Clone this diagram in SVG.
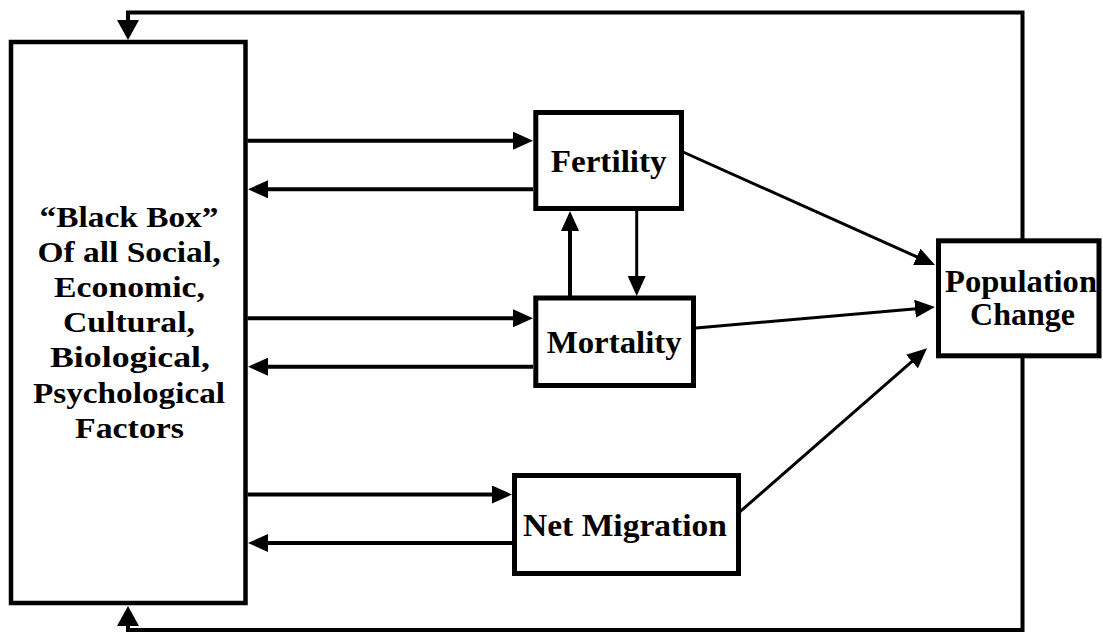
<svg xmlns="http://www.w3.org/2000/svg" width="1103" height="632" viewBox="0 0 1103 632">
<style>
.box{fill:#fff;stroke:#000;stroke-width:5}
.t{font-weight:bold;fill:#000;text-anchor:middle}
.bb{font-size:29px;font-family:Liberation Serif,serif}
.nt{font-size:31px;font-family:"Times New Roman",serif}
.c{fill:none;stroke:#000;stroke-width:4}
.c3{fill:none;stroke:#000;stroke-width:3}
</style>
<defs>
<marker id="ah" markerUnits="userSpaceOnUse" markerWidth="20" markerHeight="18" refX="10" refY="9" orient="auto"><path d="M0,0 L20,9 L0,18 Z" fill="#000"/></marker>
<marker id="ahw" markerUnits="userSpaceOnUse" markerWidth="20" markerHeight="22" refX="10" refY="11" orient="auto"><path d="M0,0 L20,11 L0,22 Z" fill="#000"/></marker>
</defs>
<g id="connectors">
<path class="c" d="M1022.5,245 V12.5 H128 V30" marker-end="url(#ahw)"/>
<path class="c" d="M1022.5,350 V630 H128 V616" marker-end="url(#ahw)"/>
<path class="c" d="M247.5,140.7 H523" marker-end="url(#ah)"/>
<path class="c" d="M533,189.3 H258" marker-end="url(#ah)"/>
<path class="c" d="M247.5,318.3 H523" marker-end="url(#ah)"/>
<path class="c" d="M533,366.7 H258" marker-end="url(#ah)"/>
<path class="c" d="M247.5,494.5 H502" marker-end="url(#ah)"/>
<path class="c" d="M512,543 H258" marker-end="url(#ah)"/>
<path class="c" d="M570,296 V221" marker-end="url(#ah)"/>
<path class="c3" d="M636.7,211 V286" marker-end="url(#ah)"/>
<path class="c3" d="M683,152 L925.9,260.9" marker-end="url(#ah)"/>
<path class="c3" d="M696,328 L925,307.9" marker-end="url(#ah)"/>
<path class="c3" d="M740,511.7 L919.5,354.9" marker-end="url(#ah)"/>
</g>
<g id="black-box">
<rect x="11" y="42" width="234.5" height="561" fill="#fff" stroke="#000" stroke-width="4.5"/>
<text class="t bb" x="129" y="227" textLength="179" lengthAdjust="spacingAndGlyphs">“Black Box”</text>
<text class="t bb" x="129" y="262" textLength="183" lengthAdjust="spacingAndGlyphs">Of all Social,</text>
<text class="t bb" x="129.5" y="297" textLength="151" lengthAdjust="spacingAndGlyphs">Economic,</text>
<text class="t bb" x="129" y="332" textLength="132" lengthAdjust="spacingAndGlyphs">Cultural,</text>
<text class="t bb" x="130" y="367" textLength="160" lengthAdjust="spacingAndGlyphs">Biological,</text>
<text class="t bb" x="129" y="403" textLength="192" lengthAdjust="spacingAndGlyphs">Psychological</text>
<text class="t bb" x="129.5" y="438" textLength="109" lengthAdjust="spacingAndGlyphs">Factors</text>
</g>
<g id="fertility">
<rect class="box" x="535.8" y="112.5" width="145.7" height="96"/>
<text class="t nt" x="608.7" y="171.7" textLength="116" lengthAdjust="spacingAndGlyphs">Fertility</text>
</g>
<g id="mortality">
<rect class="box" x="535.8" y="298" width="157.7" height="87.5"/>
<text class="t nt" x="614.2" y="353.3" textLength="135" lengthAdjust="spacingAndGlyphs">Mortality</text>
</g>
<g id="net-migration">
<rect class="box" x="514.5" y="475.5" width="224" height="98"/>
<text class="t nt" x="625" y="536" textLength="204" lengthAdjust="spacingAndGlyphs">Net Migration</text>
</g>
<g id="population-change">
<rect class="box" x="938.5" y="240.8" width="160.5" height="115"/>
<text class="t nt" x="1021" y="291.7" textLength="152" lengthAdjust="spacingAndGlyphs">Population</text>
<text class="t nt" x="1022.5" y="325" textLength="105" lengthAdjust="spacingAndGlyphs">Change</text>
</g>
</svg>
